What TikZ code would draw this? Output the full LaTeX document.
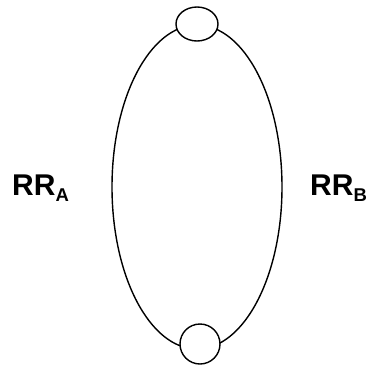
\documentclass[tikz,border=0pt]{standalone}
\usepackage{fontspec}
\setmainfont{Liberation Sans}
\usetikzlibrary{shapes.geometric}
\begin{document}
\begin{tikzpicture}[x=1pt,y=-1pt,
  ring/.style={draw=black,line width=1.4pt,ellipse,inner sep=0pt,outer sep=0pt},
  lab/.style={anchor=base west,inner sep=0pt,font=\bfseries}]
\useasboundingbox (0,0) rectangle (378,365);
\node[ring,minimum width=170pt,minimum height=324pt] (loop) at (197,187) {};
\node[ring,fill=white,minimum width=42pt,minimum height=34pt] (top) at (197,24) {};
\node[ring,fill=white,minimum width=40pt,minimum height=40pt] (bot) at (200,344) {};
\node[lab] (ra) at (12,195.7) {\fontsize{30}{30}\selectfont RR\raisebox{-6pt}{\fontsize{18.5}{18.5}\selectfont A}};
\node[lab] (rb) at (310,195.7) {\fontsize{30}{30}\selectfont RR\raisebox{-6pt}{\fontsize{18.5}{18.5}\selectfont B}};
\end{tikzpicture}
\end{document}
